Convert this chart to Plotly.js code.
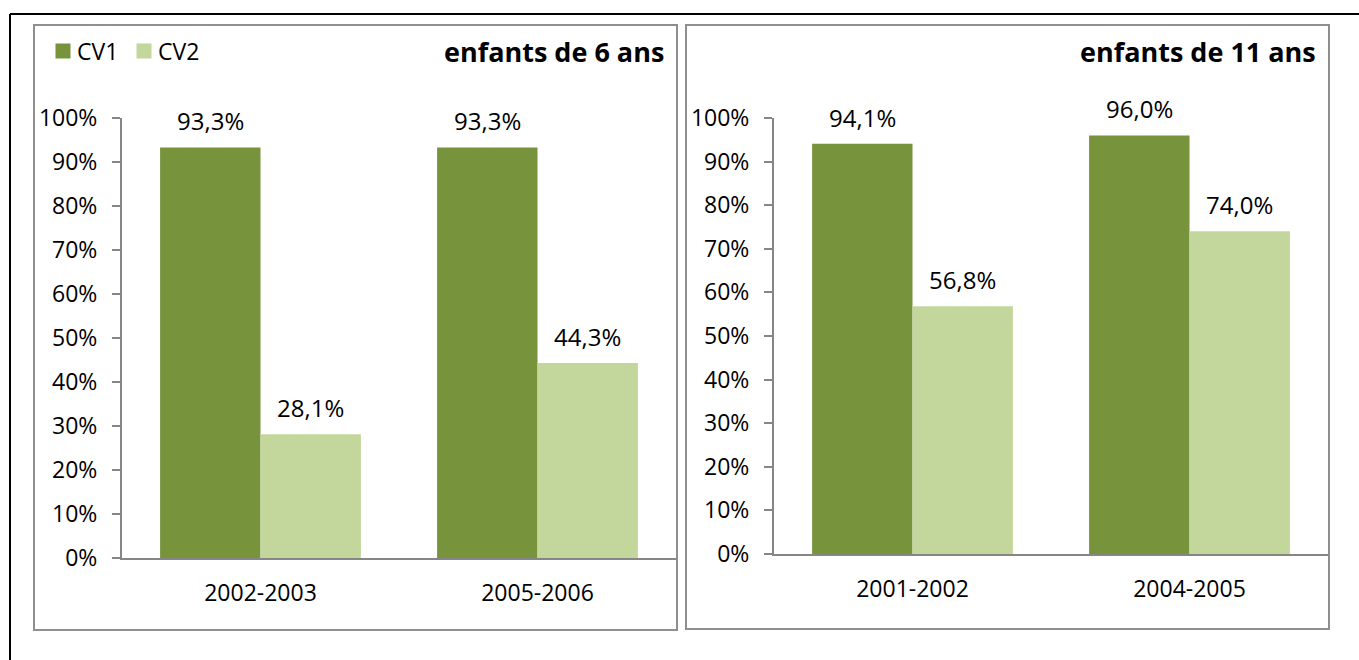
<!DOCTYPE html>
<html>
<head>
<meta charset="utf-8">
<script src="https://cdn.plot.ly/plotly-3.0.1.min.js"></script>
<style>
  html, body { margin: 0; padding: 0; background: #ffffff; }
  #chart { width: 1359px; height: 660px; }
</style>
</head>
<body>
<div id="chart"></div>
<script>
// ---- Data ----
const seriesNames = ["CV1", "CV2"];
const panelTitles = ["enfants de 6 ans", "enfants de 11 ans"];
const cats6 = ["2002-2003", "2005-2006"];
const cv1_6 = [93.3, 93.3];
const cv2_6 = [28.1, 44.3];
const cats11 = ["2001-2002", "2004-2005"];
const cv1_11 = [94.1, 96.0];
const cv2_11 = [56.8, 74.0];
const yTicks = [0, 10, 20, 30, 40, 50, 60, 70, 80, 90, 100];
const yTickText = ["0%", "10%", "20%", "30%", "40%", "50%", "60%", "70%", "80%", "90%", "100%"];

// ---- Styles ----
const W = 1359, H = 660;
const colors = ["#77933C", "#C3D69B"];
const FONT = "Open Sans, sans-serif";
const FS = 24;      // data labels
const AFS = 23;     // axis tick labels / legend
const TFS = 27;     // panel titles
const axisGrey = "#868686";
const px = v => v / W;
const py = v => 1 - v / H;

const traces = [
  { type: "bar", name: seriesNames[0], x: cats6, y: cv1_6, xaxis: "x", yaxis: "y",
    marker: { color: colors[0] }, legendgroup: "a", hoverinfo: "skip" },
  { type: "bar", name: seriesNames[1], x: cats6, y: cv2_6, xaxis: "x", yaxis: "y",
    marker: { color: colors[1] }, legendgroup: "b", hoverinfo: "skip" },
  { type: "bar", name: seriesNames[0], x: cats11, y: cv1_11, xaxis: "x2", yaxis: "y2",
    marker: { color: colors[0] }, legendgroup: "a", showlegend: false, hoverinfo: "skip" },
  { type: "bar", name: seriesNames[1], x: cats11, y: cv2_11, xaxis: "x2", yaxis: "y2",
    marker: { color: colors[1] }, legendgroup: "b", showlegend: false, hoverinfo: "skip" }
];

const fmt = v => v.toFixed(1).replace(".", ",") + "%";
const annotations = [];
function addLabels(cats, vals, xref, yref, shift) {
  cats.forEach((c, i) => {
    annotations.push({
      x: c, y: vals[i], xref: xref, yref: yref, text: fmt(vals[i]),
      showarrow: false, xanchor: "center", yanchor: "bottom",
      xshift: shift, yshift: 8, font: { family: FONT, size: FS, color: "#000" }
    });
  });
}
addLabels(cats6, cv1_6, "x", "y", -50);
addLabels(cats6, cv2_6, "x", "y", 50);
addLabels(cats11, cv1_11, "x2", "y2", -50);
addLabels(cats11, cv2_11, "x2", "y2", 50);

annotations.push({ text: "<b>" + panelTitles[0] + "</b>", xref: "paper", yref: "paper",
  x: px(666), y: py(51), xanchor: "right", yanchor: "middle", showarrow: false,
  font: { family: FONT, size: TFS, color: "#000" } });
annotations.push({ text: "<b>" + panelTitles[1] + "</b>", xref: "paper", yref: "paper",
  x: px(1318), y: py(51), xanchor: "right", yanchor: "middle", showarrow: false,
  font: { family: FONT, size: TFS, color: "#000" } });

const shapes = [
  // outer black frame
  { type: "line", xref: "paper", yref: "paper", x0: px(10), x1: px(1359), y0: py(14), y1: py(14),
    line: { color: "#000", width: 2 } },
  { type: "line", xref: "paper", yref: "paper", x0: px(10), x1: px(10), y0: py(14), y1: py(660),
    line: { color: "#000", width: 2 } },
  // panel borders
  { type: "rect", xref: "paper", yref: "paper", x0: px(34), x1: px(677), y0: py(25), y1: py(630),
    line: { color: "#8F8F8F", width: 2 }, layer: "below" },
  { type: "rect", xref: "paper", yref: "paper", x0: px(686), x1: px(1329), y0: py(25), y1: py(629),
    line: { color: "#8F8F8F", width: 2 }, layer: "below" }
];

function yax(domain, anchor) {
  return {
    domain: domain, anchor: anchor, range: [0, 100],
    tickmode: "array", tickvals: yTicks, ticktext: yTickText,
    showgrid: false, zeroline: false, showline: true, linecolor: axisGrey, linewidth: 2,
    ticks: "outside", ticklen: 8, tickwidth: 2, tickcolor: axisGrey,
    ticklabelstandoff: 10,
    tickfont: { family: FONT, size: AFS, color: "#000" }, fixedrange: true
  };
}
function xax(domain, anchor) {
  return {
    domain: domain, anchor: anchor, type: "category", range: [-0.5, 1.5],
    showgrid: false, zeroline: false, showline: true, linecolor: axisGrey, linewidth: 2,
    ticks: "", ticklabelstandoff: 13,
    tickfont: { family: FONT, size: AFS, color: "#000" }, fixedrange: true
  };
}

const layout = {
  width: W, height: H,
  margin: { l: 0, r: 0, t: 0, b: 0 },
  paper_bgcolor: "#ffffff", plot_bgcolor: "rgba(0,0,0,0)",
  barmode: "group", bargap: 0.275, bargroupgap: 0,
  font: { family: FONT, size: AFS, color: "#000" },
  xaxis: xax([px(122), px(676)], "y"),
  yaxis: yax([1 - 558 / H, 1 - 118 / H], "x"),
  xaxis2: xax([px(774), px(1328)], "y2"),
  yaxis2: yax([1 - 554 / H, 1 - 118 / H], "x2"),
  showlegend: true,
  legend: { orientation: "h", x: px(37), xanchor: "left", y: py(51), yanchor: "middle",
    font: { family: FONT, size: AFS, color: "#000" }, bgcolor: "rgba(0,0,0,0)",
    entrywidth: 36, entrywidthmode: "pixels",
    itemclick: false, itemdoubleclick: false, tracegroupgap: 0 },
  annotations: annotations,
  shapes: shapes
};

Plotly.newPlot("chart", traces, layout, { displayModeBar: false, staticPlot: true }).then(gd => {
  // enlarge legend swatches to the reference's 15px squares, placed just before the text
  gd.querySelectorAll(".legendpoints path").forEach(p => {
    p.setAttribute("d", "M13.5,7.5H-1.5V-7.5H13.5Z");
  });
});
</script>
</body>
</html>
